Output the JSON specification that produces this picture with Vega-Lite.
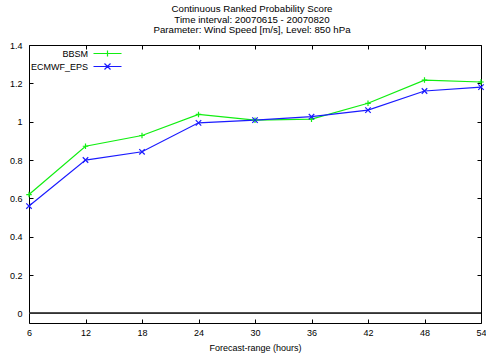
{
  "$schema": "https://vega.github.io/schema/vega-lite/v6.json",
  "width": 452,
  "height": 278,
  "autosize": {"type": "none"},
  "padding": {"left": 29, "top": 45, "right": 5, "bottom": 35},
  "background": "white",
  "title": {
    "text": ["Continuous Ranked Probability Score", "Time interval: 20070615 - 20070820", "Parameter: Wind Speed [m/s], Level: 850 hPa"],
    "font": "Liberation Sans",
    "fontSize": 9.7,
    "fontWeight": "normal",
    "color": "#000",
    "lineHeight": 10.5,
    "offset": 6,
    "anchor": "middle",
    "dx": -3
  },
  "config": {
    "view": {"stroke": "#000", "strokeWidth": 1},
    "axis": {
      "domain": false,
      "grid": false,
      "tickColor": "#000",
      "tickSize": -4,
      "labelFont": "Liberation Sans",
      "labelFontSize": 9,
      "labelColor": "#000",
      "titleFont": "Liberation Sans",
      "titleFontSize": 9,
      "titleFontWeight": "normal",
      "titleColor": "#000"
    }
  },
  "data": {
    "values": [
      {"h": 6, "series": "BBSM", "crps": 0.62},
      {"h": 12, "series": "BBSM", "crps": 0.872},
      {"h": 18, "series": "BBSM", "crps": 0.928},
      {"h": 24, "series": "BBSM", "crps": 1.038},
      {"h": 30, "series": "BBSM", "crps": 1.008},
      {"h": 36, "series": "BBSM", "crps": 1.013},
      {"h": 42, "series": "BBSM", "crps": 1.096},
      {"h": 48, "series": "BBSM", "crps": 1.217},
      {"h": 54, "series": "BBSM", "crps": 1.207},
      {"h": 6, "series": "ECMWF_EPS", "crps": 0.56},
      {"h": 12, "series": "ECMWF_EPS", "crps": 0.8},
      {"h": 18, "series": "ECMWF_EPS", "crps": 0.843},
      {"h": 24, "series": "ECMWF_EPS", "crps": 0.994},
      {"h": 30, "series": "ECMWF_EPS", "crps": 1.008},
      {"h": 36, "series": "ECMWF_EPS", "crps": 1.026},
      {"h": 42, "series": "ECMWF_EPS", "crps": 1.06},
      {"h": 48, "series": "ECMWF_EPS", "crps": 1.16},
      {"h": 54, "series": "ECMWF_EPS", "crps": 1.18}
    ]
  },
  "resolve": {"axis": {"x": "independent", "y": "independent"}},
  "layer": [
    {
      "mark": {"type": "rule", "color": "#333", "strokeWidth": 1},
      "encoding": {
        "y": {"datum": 0, "type": "quantitative", "scale": {"domain": [-0.05, 1.4], "nice": false, "zero": false}, "axis": null}
      }
    },
    {
      "mark": {"type": "line", "strokeWidth": 1.2},
      "encoding": {
        "x": {
          "field": "h", "type": "quantitative",
          "scale": {"domain": [6, 54], "nice": false, "zero": false},
          "axis": {"orient": "bottom", "values": [6, 12, 18, 24, 30, 36, 42, 48, 54], "title": "Forecast-range (hours)", "labelPadding": 9, "titlePadding": 6, "labelFlush": false}
        },
        "y": {
          "field": "crps", "type": "quantitative",
          "scale": {"domain": [-0.05, 1.4], "nice": false, "zero": false},
          "axis": {"orient": "left", "values": [0, 0.2, 0.4, 0.6, 0.8, 1, 1.2, 1.4], "format": "~g", "title": null, "labelPadding": 11}
        },
        "color": {
          "field": "series", "type": "nominal",
          "scale": {"domain": ["BBSM", "ECMWF_EPS"], "range": ["#11ee11", "#1a1aff"]},
          "legend": {
            "orient": "none",
            "legendX": 74,
            "legendY": 4,
            "title": null,
            "padding": 0,
            "symbolSize": 16,
            "symbolStrokeWidth": 1.2,
            "symbolOpacity": 1,
            "symbolType": "M-7,0H7",
            "labelFont": "Liberation Sans",
            "labelFontSize": 9,
            "labelColor": "#000",
            "labelAlign": "right",
            "labelOffset": -24,
            "rowPadding": 2,
            "encode": {
              "symbols": {
                "update": {
                  "shape": {"signal": "datum.value === 'BBSM' ? 'M-7,0H7M0,-1.5V1.5' : 'M-7,0H7M-1.5,-1.5L1.5,1.5M-1.5,1.5L1.5,-1.5'"},
                  "fill": {"value": "transparent"}
                }
              }
            }
          }
        }
      }
    },
    {
      "transform": [{"filter": "datum.series === 'BBSM'"}],
      "mark": {"type": "point", "filled": false, "size": 30, "strokeWidth": 1.2, "opacity": 1, "shape": "M-1,0H1M0,-1V1"},
      "encoding": {
        "x": {"field": "h", "type": "quantitative", "axis": {"orient": "top", "values": [6, 12, 18, 24, 30, 36, 42, 48, 54], "labels": false, "title": null}},
        "y": {"field": "crps", "type": "quantitative", "axis": {"orient": "right", "values": [0, 0.2, 0.4, 0.6, 0.8, 1, 1.2, 1.4], "labels": false, "title": null}},
        "color": {"field": "series", "type": "nominal"}
      }
    },
    {
      "transform": [{"filter": "datum.series === 'ECMWF_EPS'"}],
      "mark": {"type": "point", "filled": false, "size": 30, "strokeWidth": 1.2, "opacity": 1, "shape": "M-1,-1L1,1M-1,1L1,-1"},
      "encoding": {
        "x": {"field": "h", "type": "quantitative", "axis": null},
        "y": {"field": "crps", "type": "quantitative", "axis": null},
        "color": {"field": "series", "type": "nominal"}
      }
    }
  ]
}
